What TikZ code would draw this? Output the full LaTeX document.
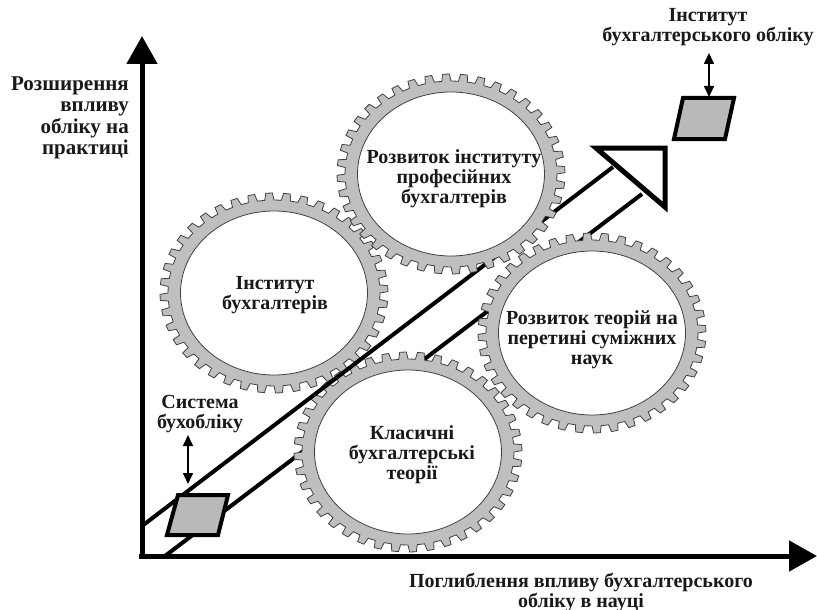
\documentclass[tikz,border=0pt]{standalone}
\usepackage{fontspec}
\setmainfont{Liberation Serif}
\usetikzlibrary{arrows.meta}
\newcommand\mygear[2]{%
  \begin{scope}[shift={(#1,#2)}, xscale=1.14]
    \draw[gearring] (0:93) \foreach \i in {0,...,39}{ -- ({\i*9+4}:93) -- ({\i*9+4.8}:100) -- ({\i*9+8.2}:100) -- ({\i*9+9}:93)} -- cycle;
    \draw[gearhole] (0,0) circle (82);
  \end{scope}}
\begin{document}
\begin{tikzpicture}[x=1pt,y=-1pt,
  lbl/.style={font=\fontsize{20}{20}\selectfont\bfseries, align=center, inner sep=0pt, text=black!90},
  gearring/.style={fill=gray!50, draw=black!75, line width=0.8pt},
  gearhole/.style={fill=white, draw=black!75, line width=0.8pt},
  diag/.style={line width=4pt, black},
  axis/.style={line width=5pt, -{Triangle[length=28pt,width=30pt]}},
  plate/.style={fill=gray!55, draw=black, line width=4pt, line join=miter},
  dbl/.style={line width=1.6pt, {Triangle[length=11pt,width=10pt]}-{Triangle[length=11pt,width=10pt]}}]
\useasboundingbox (0,0) rectangle (817,610);
% diagonal lines and gears
\coordinate (L2a) at (165,556); \coordinate (L2b) at (642,194);
\coordinate (L1a) at (142,526); \coordinate (L1b) at (613,167);
\draw[diag] (L2a) -- (L2b);
\mygear{274}{293}
\mygear{592}{333}
\mygear{408}{452}
\draw[diag] (L1a) -- (L1b);
\mygear{451}{174}
% arrow head
\coordinate (H1) at (596,148); \coordinate (H2) at (665,148); \coordinate (H3) at (665,207);
\draw[line width=5pt, fill=white, line join=miter] (H1) -- (H2) -- (H3) -- cycle;
% axes
\coordinate (O) at (142,558);
\coordinate (Ytop) at (142,36);
\coordinate (Xend) at (817,556);
\coordinate (O2) at (139,556);
\draw[axis] (O) -- (Ytop);
\draw[axis] (O2) -- (Xend);
% plates
\coordinate (P1) at (178,495); \coordinate (P2) at (228,495); \coordinate (P3) at (218,535); \coordinate (P4) at (167,535);
\draw[plate] (P1) -- (P2) -- (P3) -- (P4) -- cycle;
\coordinate (Q1) at (683,98); \coordinate (Q2) at (734,98); \coordinate (Q3) at (725,139); \coordinate (Q4) at (674,139);
\draw[plate] (Q1) -- (Q2) -- (Q3) -- (Q4) -- cycle;
\coordinate (a1) at (188,435); \coordinate (a2) at (188,484);
\draw[dbl] (a1) -- (a2);
\coordinate (b1) at (709,53); \coordinate (b2) at (709,97);
\draw[dbl] (b1) -- (b2);
% labels
\node[lbl, align=right, anchor=east, font=\fontsize{21}{21.5}\selectfont\bfseries] (ylab) at (129,118) {Розширення\\впливу\\обліку на\\практиці};
\node[lbl] (xlab) at (581,592) {Поглиблення впливу бухгалтерського\\обліку в науці};
\node[lbl] (inst) at (708,27) {Інститут\\бухгалтерського обліку};
\node[lbl] (sys) at (200,414) {Система\\бухобліку};
\node[lbl] (g1) at (275,295) {Інститут\\бухгалтерів};
\node[lbl] (g2) at (454,179) {Розвиток інституту\\професійних\\бухгалтерів};
\node[lbl] (g3) at (592,340) {Розвиток теорій на\\перетині суміжних\\наук};
\node[lbl] (g4) at (412,455) {Класичні\\бухгалтерські\\теорії};
\end{tikzpicture}
\end{document}
